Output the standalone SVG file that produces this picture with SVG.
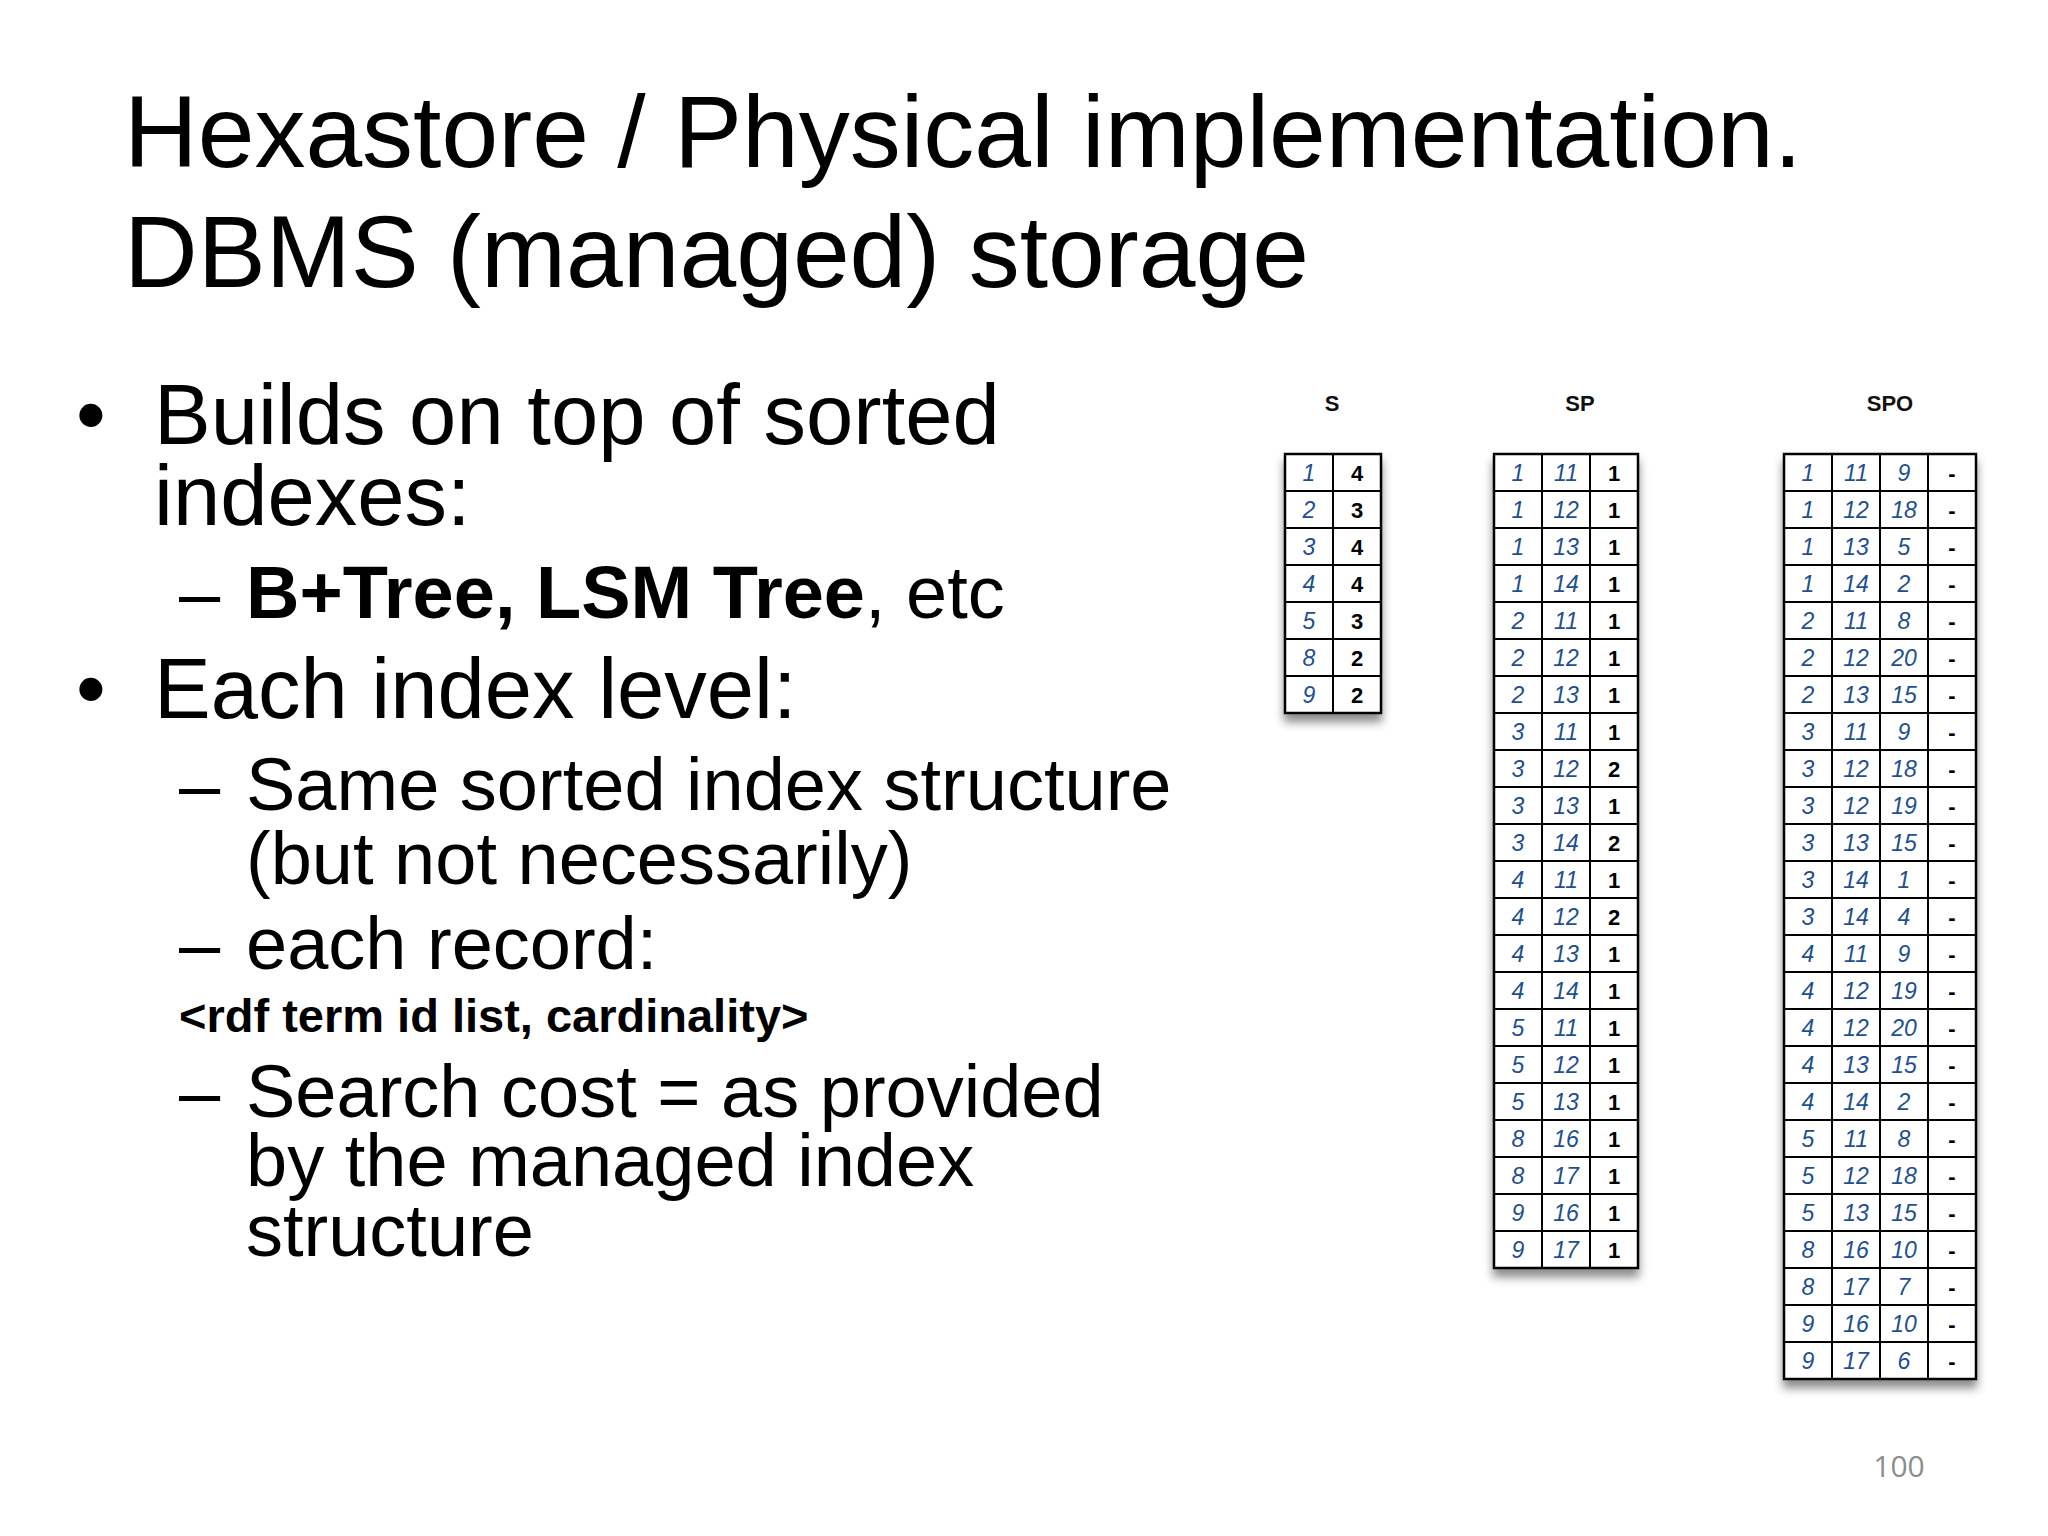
<svg xmlns="http://www.w3.org/2000/svg" width="2048" height="1536" viewBox="0 0 2048 1536">
<style>
.t{font-family:"Liberation Sans",Arial,sans-serif;fill:#000}
.i{font-family:"Liberation Sans",Arial,sans-serif;font-style:italic;font-size:23px;fill:#1d4f91;text-anchor:middle}
.b{font-family:"Liberation Sans",Arial,sans-serif;font-weight:bold;font-size:22px;fill:#000;text-anchor:middle}
.h{font-family:"Liberation Sans",Arial,sans-serif;font-weight:bold;font-size:22px;fill:#111;text-anchor:middle}
.g{fill:#fff;stroke:#000;stroke-width:2.5;filter:url(#sh)}
.l{stroke:#000;stroke-width:2;fill:none}
</style>
<defs><filter id="sh" x="-20%" y="-5%" width="140%" height="115%"><feDropShadow dx="0" dy="8" stdDeviation="5" flood-color="#000" flood-opacity="0.45"/></filter></defs>
<rect width="2048" height="1536" fill="#fff"/>
<g id="title" class="t" font-size="102">
<text x="124" y="167">Hexastore / Physical implementation.</text>
<text x="124" y="287">DBMS (managed) storage</text>
</g>
<g id="body" class="t">
<text x="76" y="444" font-size="85">•</text>
<text x="154" y="444" font-size="85">Builds on top of sorted</text>
<text x="154" y="525" font-size="85">indexes:</text>
<text x="179" y="618" font-size="74">–</text>
<text x="246" y="618" font-size="74"><tspan font-weight="bold">B+Tree, LSM Tree</tspan>, etc</text>
<text x="76" y="718" font-size="85">•</text>
<text x="154" y="718" font-size="85">Each index level:</text>
<text x="179" y="810" font-size="74">–</text>
<text x="246" y="810" font-size="74">Same sorted index structure</text>
<text x="246" y="884" font-size="74">(but not necessarily)</text>
<text x="179" y="969" font-size="74">–</text>
<text x="246" y="969" font-size="74">each record:</text>
<text x="179" y="1032" font-size="47" font-weight="bold">&lt;rdf term id list, cardinality&gt;</text>
<text x="179" y="1117" font-size="74">–</text>
<text x="246" y="1117" font-size="74">Search cost = as provided</text>
<text x="246" y="1186" font-size="74">by the managed index</text>
<text x="246" y="1256" font-size="74">structure</text>
<text x="1899" y="1477" font-size="30" text-anchor="middle" style="fill:#8c8c8c;font-family:'Open Sans',sans-serif">100</text>
</g>
<g id="S">
<text class="h" x="1332" y="411">S</text>
<rect class="g" x="1285" y="454" width="96" height="259"/>
<path class="l" d="M1333 454V713M1285 491H1381M1285 528H1381M1285 565H1381M1285 602H1381M1285 639H1381M1285 676H1381"/>
<g class="i"><text x="1309" y="481">1</text><text x="1309" y="518">2</text><text x="1309" y="555">3</text><text x="1309" y="592">4</text><text x="1309" y="629">5</text><text x="1309" y="666">8</text><text x="1309" y="703">9</text></g>
<g class="b"><text x="1357" y="481">4</text><text x="1357" y="518">3</text><text x="1357" y="555">4</text><text x="1357" y="592">4</text><text x="1357" y="629">3</text><text x="1357" y="666">2</text><text x="1357" y="703">2</text></g>
</g>
<g id="SP">
<text class="h" x="1580" y="411">SP</text>
<rect class="g" x="1494" y="454" width="144" height="814"/>
<path class="l" d="M1542 454V1268M1590 454V1268M1494 491H1638M1494 528H1638M1494 565H1638M1494 602H1638M1494 639H1638M1494 676H1638M1494 713H1638M1494 750H1638M1494 787H1638M1494 824H1638M1494 861H1638M1494 898H1638M1494 935H1638M1494 972H1638M1494 1009H1638M1494 1046H1638M1494 1083H1638M1494 1120H1638M1494 1157H1638M1494 1194H1638M1494 1231H1638"/>
<g class="i">
<text x="1518" y="481">1</text><text x="1518" y="518">1</text><text x="1518" y="555">1</text><text x="1518" y="592">1</text><text x="1518" y="629">2</text><text x="1518" y="666">2</text><text x="1518" y="703">2</text><text x="1518" y="740">3</text><text x="1518" y="777">3</text><text x="1518" y="814">3</text><text x="1518" y="851">3</text><text x="1518" y="888">4</text><text x="1518" y="925">4</text><text x="1518" y="962">4</text><text x="1518" y="999">4</text><text x="1518" y="1036">5</text><text x="1518" y="1073">5</text><text x="1518" y="1110">5</text><text x="1518" y="1147">8</text><text x="1518" y="1184">8</text><text x="1518" y="1221">9</text><text x="1518" y="1258">9</text>
<text x="1566" y="481">11</text><text x="1566" y="518">12</text><text x="1566" y="555">13</text><text x="1566" y="592">14</text><text x="1566" y="629">11</text><text x="1566" y="666">12</text><text x="1566" y="703">13</text><text x="1566" y="740">11</text><text x="1566" y="777">12</text><text x="1566" y="814">13</text><text x="1566" y="851">14</text><text x="1566" y="888">11</text><text x="1566" y="925">12</text><text x="1566" y="962">13</text><text x="1566" y="999">14</text><text x="1566" y="1036">11</text><text x="1566" y="1073">12</text><text x="1566" y="1110">13</text><text x="1566" y="1147">16</text><text x="1566" y="1184">17</text><text x="1566" y="1221">16</text><text x="1566" y="1258">17</text>
</g>
<g class="b">
<text x="1614" y="481">1</text><text x="1614" y="518">1</text><text x="1614" y="555">1</text><text x="1614" y="592">1</text><text x="1614" y="629">1</text><text x="1614" y="666">1</text><text x="1614" y="703">1</text><text x="1614" y="740">1</text><text x="1614" y="777">2</text><text x="1614" y="814">1</text><text x="1614" y="851">2</text><text x="1614" y="888">1</text><text x="1614" y="925">2</text><text x="1614" y="962">1</text><text x="1614" y="999">1</text><text x="1614" y="1036">1</text><text x="1614" y="1073">1</text><text x="1614" y="1110">1</text><text x="1614" y="1147">1</text><text x="1614" y="1184">1</text><text x="1614" y="1221">1</text><text x="1614" y="1258">1</text>
</g>
</g>
<g id="SPO">
<text class="h" x="1890" y="411">SPO</text>
<rect class="g" x="1784" y="454" width="192" height="925"/>
<path class="l" d="M1832 454V1379M1880 454V1379M1928 454V1379M1784 491H1976M1784 528H1976M1784 565H1976M1784 602H1976M1784 639H1976M1784 676H1976M1784 713H1976M1784 750H1976M1784 787H1976M1784 824H1976M1784 861H1976M1784 898H1976M1784 935H1976M1784 972H1976M1784 1009H1976M1784 1046H1976M1784 1083H1976M1784 1120H1976M1784 1157H1976M1784 1194H1976M1784 1231H1976M1784 1268H1976M1784 1305H1976M1784 1342H1976"/>
<g class="i">
<text x="1808" y="481">1</text><text x="1808" y="518">1</text><text x="1808" y="555">1</text><text x="1808" y="592">1</text><text x="1808" y="629">2</text><text x="1808" y="666">2</text><text x="1808" y="703">2</text><text x="1808" y="740">3</text><text x="1808" y="777">3</text><text x="1808" y="814">3</text><text x="1808" y="851">3</text><text x="1808" y="888">3</text><text x="1808" y="925">3</text><text x="1808" y="962">4</text><text x="1808" y="999">4</text><text x="1808" y="1036">4</text><text x="1808" y="1073">4</text><text x="1808" y="1110">4</text><text x="1808" y="1147">5</text><text x="1808" y="1184">5</text><text x="1808" y="1221">5</text><text x="1808" y="1258">8</text><text x="1808" y="1295">8</text><text x="1808" y="1332">9</text><text x="1808" y="1369">9</text>
<text x="1856" y="481">11</text><text x="1856" y="518">12</text><text x="1856" y="555">13</text><text x="1856" y="592">14</text><text x="1856" y="629">11</text><text x="1856" y="666">12</text><text x="1856" y="703">13</text><text x="1856" y="740">11</text><text x="1856" y="777">12</text><text x="1856" y="814">12</text><text x="1856" y="851">13</text><text x="1856" y="888">14</text><text x="1856" y="925">14</text><text x="1856" y="962">11</text><text x="1856" y="999">12</text><text x="1856" y="1036">12</text><text x="1856" y="1073">13</text><text x="1856" y="1110">14</text><text x="1856" y="1147">11</text><text x="1856" y="1184">12</text><text x="1856" y="1221">13</text><text x="1856" y="1258">16</text><text x="1856" y="1295">17</text><text x="1856" y="1332">16</text><text x="1856" y="1369">17</text>
<text x="1904" y="481">9</text><text x="1904" y="518">18</text><text x="1904" y="555">5</text><text x="1904" y="592">2</text><text x="1904" y="629">8</text><text x="1904" y="666">20</text><text x="1904" y="703">15</text><text x="1904" y="740">9</text><text x="1904" y="777">18</text><text x="1904" y="814">19</text><text x="1904" y="851">15</text><text x="1904" y="888">1</text><text x="1904" y="925">4</text><text x="1904" y="962">9</text><text x="1904" y="999">19</text><text x="1904" y="1036">20</text><text x="1904" y="1073">15</text><text x="1904" y="1110">2</text><text x="1904" y="1147">8</text><text x="1904" y="1184">18</text><text x="1904" y="1221">15</text><text x="1904" y="1258">10</text><text x="1904" y="1295">7</text><text x="1904" y="1332">10</text><text x="1904" y="1369">6</text>
</g>
<g class="b">
<text x="1952" y="481">-</text><text x="1952" y="518">-</text><text x="1952" y="555">-</text><text x="1952" y="592">-</text><text x="1952" y="629">-</text><text x="1952" y="666">-</text><text x="1952" y="703">-</text><text x="1952" y="740">-</text><text x="1952" y="777">-</text><text x="1952" y="814">-</text><text x="1952" y="851">-</text><text x="1952" y="888">-</text><text x="1952" y="925">-</text><text x="1952" y="962">-</text><text x="1952" y="999">-</text><text x="1952" y="1036">-</text><text x="1952" y="1073">-</text><text x="1952" y="1110">-</text><text x="1952" y="1147">-</text><text x="1952" y="1184">-</text><text x="1952" y="1221">-</text><text x="1952" y="1258">-</text><text x="1952" y="1295">-</text><text x="1952" y="1332">-</text><text x="1952" y="1369">-</text>
</g>
</g>
</svg>
